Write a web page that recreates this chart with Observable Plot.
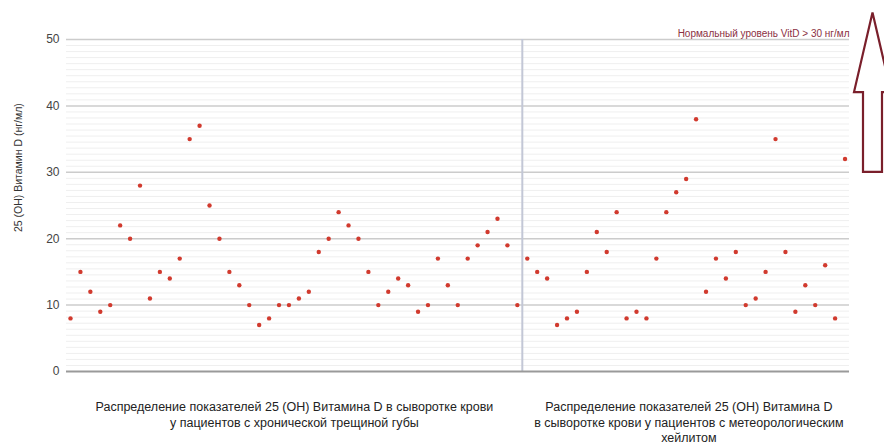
<!DOCTYPE html>
<html>
<head>
<meta charset="utf-8">
<script src="https://cdn.jsdelivr.net/npm/d3@7"></script>
<script src="https://cdn.jsdelivr.net/npm/@observablehq/plot@0.6"></script>
<style>
  body { margin: 0; background: #fff; }
  #chart { position: relative; width: 884px; height: 446px; overflow: hidden; }
</style>
</head>
<body>
<div id="chart"></div>
<script>
// Group 1: хроническая трещина губы (46 пациентов)
const group1Values = [8, 15, 12, 9, 10, 22, 20, 28, 11, 15, 14, 17, 35, 37, 25, 20, 15, 13, 10, 7, 8, 10, 10, 11, 12, 18, 20, 24, 22, 20, 15, 10, 12, 14, 13, 9, 10, 17, 13, 10, 17, 19, 21, 23, 19, 10];
// Group 2: метеорологический хейлит (33 пациента)
const group2Values = [17, 15, 14, 7, 8, 9, 15, 21, 18, 24, 8, 9, 8, 17, 24, 27, 29, 38, 12, 17, 14, 18, 10, 11, 15, 35, 18, 9, 13, 10, 16, 8, 32];

const groupLabels = [
  "Распределение показателей 25 (ОН) Витамина D в сыворотке крови\nу пациентов с хронической трещиной губы",
  "Распределение показателей 25 (ОН) Витамина D\nв сыворотке крови у пациентов с метеорологическим\nхейлитом"
];
const yTicks = [0, 10, 20, 30, 40, 50];
const yLabel = "25 (ОН) Витамин D (нг/мл)";
const normalNote = "Нормальный уровень VitD > 30 нг/мл";
const normalLevel = 30;

const n1 = group1Values.length, n2 = group2Values.length;
const points = [
  ...group1Values.map((v, i) => ({i, v})),
  ...group2Values.map((v, i) => ({i: n1 + i, v}))
];
const xDomain = [-0.403, n1 + n2 - 1 + 0.45];
const divider = n1 - 0.5;
const labelData = [
  {x: (xDomain[0] + divider) / 2, text: groupLabels[0]},
  {x: (divider + xDomain[1]) / 2 + 0.3, text: groupLabels[1]}
];

const majorTicks = yTicks.filter(t => t > 0);
const minorTicks = [];
for (let k = 0; k < yTicks.length - 1; k++) {
  for (let j = 1; j <= 10; j++) minorTicks.push(yTicks[k] + j * (yTicks[k + 1] - yTicks[k]) / 11);
}

const arrowMark = (index, scales, values, dims) => {
  const g = d3.create("svg:g");
  const cx = dims.width - 11.5;
  const yb = scales.y(normalLevel), yh = scales.y(normalLevel + 12), yt = scales.y(normalLevel + 24);
  const pts = [[cx, yt], [cx + 18.5, yh], [cx + 9.5, yh], [cx + 9.5, yb], [cx - 9.5, yb], [cx - 9.5, yh], [cx - 18.5, yh]];
  g.append("polygon")
    .attr("points", pts.map(p => p.join(",")).join(" "))
    .attr("fill", "#fff")
    .attr("stroke", "#7a1f2b")
    .attr("stroke-width", 2.2)
    .attr("stroke-linejoin", "miter");
  return g.node();
};

const chart = Plot.plot({
  width: 884,
  height: 446,
  marginLeft: 66,
  marginRight: 35,
  marginTop: 39,
  marginBottom: 75,
  style: {fontFamily: "'Liberation Sans', Arial, sans-serif", background: "#fff", overflow: "visible"},
  x: {domain: xDomain, axis: null},
  y: {domain: [0, 50], axis: null},
  marks: [
    Plot.ruleY(minorTicks, {stroke: "#efefef", strokeWidth: 1}),
    Plot.ruleY(majorTicks, {stroke: "#cccccc", strokeWidth: 1.5}),
    Plot.ruleX([divider], {stroke: "#c3c7d6", strokeWidth: 2}),
    Plot.ruleY([0], {stroke: "#9a9a9a", strokeWidth: 2}),
    Plot.axisY({ticks: yTicks, tickSize: 0, tickPadding: 7, fontSize: 12, fill: "#444", label: null}),
    Plot.text([yLabel], {frameAnchor: "left", y: 21, dx: -48, rotate: -90, fontSize: 10.5, fill: "#333"}),
    Plot.dot(points, {x: "i", y: "v", r: 2.2, fill: "#d13a2e"}),
    Plot.text([normalNote], {frameAnchor: "top-right", dy: -10, textAnchor: "end", fontSize: 10, fill: "#8b3042"}),
    Plot.text(labelData, {x: "x", text: "text", frameAnchor: "bottom", lineAnchor: "top", dy: 29, lineHeight: 1.22, fontSize: 12.5, fill: "#222"}),
    arrowMark
  ]
});
document.getElementById("chart").append(chart);
</script>
</body>
</html>
